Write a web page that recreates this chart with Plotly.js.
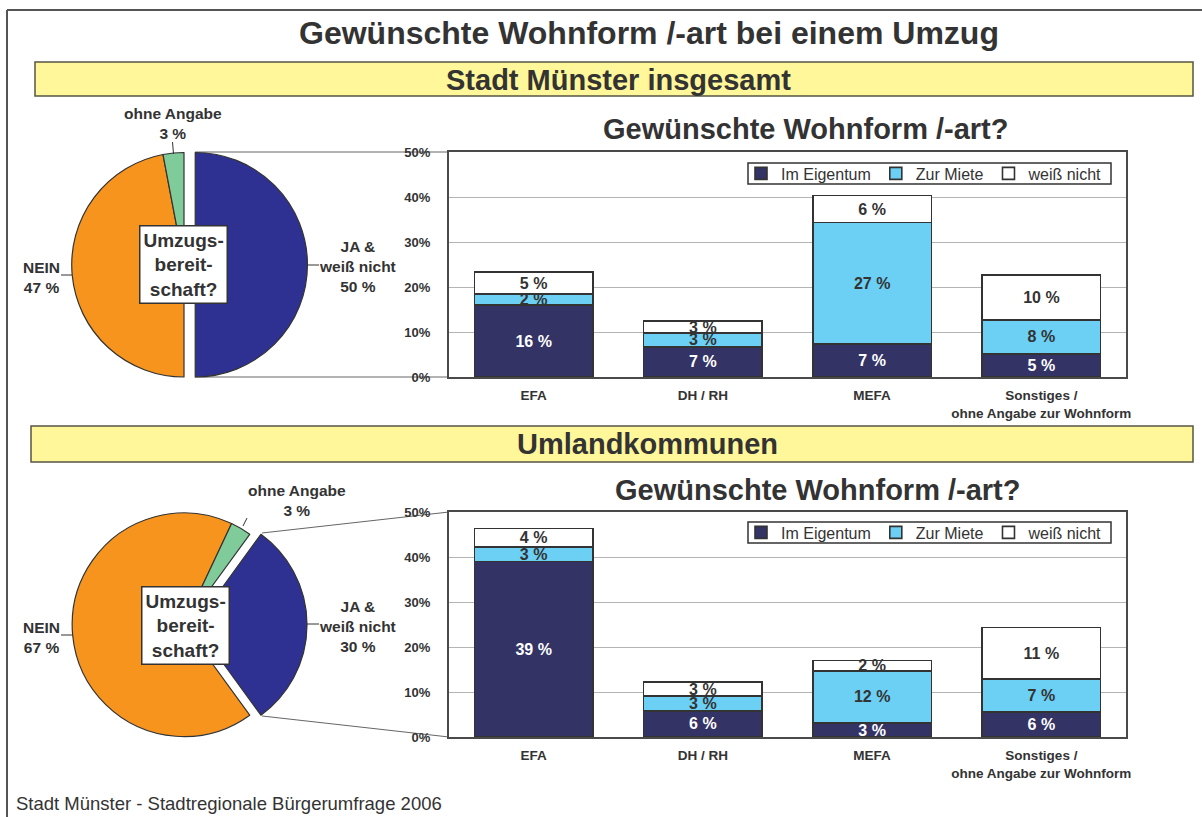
<!DOCTYPE html>
<html>
<head>
<meta charset="utf-8">
<script src="https://cdn.plot.ly/plotly-3.0.1.min.js"></script>
<style>html,body{margin:0;padding:0;background:#fff;}#chart{width:1202px;height:817px;}</style>
</head>
<body>
<div id="chart"></div>
<script>
// ---------- data ----------
var pieLabels = ['JA &<br>weiß nicht', 'NEIN', 'ohne Angabe'];
var pieMuenster = [50, 47, 3];
var pieUmland = [30, 67, 3];

var categories = ['EFA', 'DH / RH', 'MEFA', 'Sonstiges /<br>ohne Angabe zur Wohnform'];
var seriesNames = ['Im Eigentum', 'Zur Miete', 'weiß nicht'];
var muensterEigentum = [16, 6.7, 7.3, 5.1];
var muensterMiete = [2.4, 3.1, 27, 7.6];
var muensterWeiss = [4.9, 2.6, 6, 10];
var umlandEigentum = [39, 5.8, 3.1, 5.6];
var umlandMiete = [3.2, 3.3, 11.6, 7.3];
var umlandWeiss = [4.1, 3.1, 2.3, 11.4];
var yTicks = [0, 10, 20, 30, 40, 50];
var yTickText = yTicks.map(function (v) { return v + '%'; });

// ---------- styling helpers ----------
var W = 1202, H = 817;
function X(px) { return px / W; }
function Y(py) { return 1 - py / H; }
var FONT = 'Liberation Sans, Arial, sans-serif';
var TXT = '#333333';
var seriesColors = ['#333366', '#6ccff4', '#ffffff'];
var seriesTextColors = ['#ffffff', TXT, TXT];
var pieColors = ['#2e3192', '#f7941d', '#80cb9a'];

var traces = [];

function pieTrace(vals, dom, rot) {
  return {
    type: 'pie', labels: pieLabels, values: vals, sort: false, direction: 'clockwise',
    rotation: rot, pull: [0.1, 0, 0], textinfo: 'none', hoverinfo: 'none',
    marker: {colors: pieColors, line: {color: '#333', width: 1.2}},
    domain: dom, showlegend: false, automargin: false
  };
}
traces.push(pieTrace(pieMuenster, {x: [X(60.5), X(307.5)], y: [Y(388.5), Y(141)]}, 0));
traces.push(pieTrace(pieUmland, {x: [X(61), X(307)], y: [Y(748), Y(501.5)]}, 36));

function barSet(vals, xa, ya, legendName) {
  vals.forEach(function (v, i) {
    traces.push({
      type: 'bar', x: categories, y: v, name: seriesNames[i], xaxis: xa, yaxis: ya,
      marker: {color: seriesColors[i], line: {color: '#333', width: 1.6}},
      texttemplate: '%{y:.0f} %', textposition: 'inside', insidetextanchor: 'middle',
      textangle: 0, constraintext: 'none', cliponaxis: false,
      textfont: {family: FONT, size: 16, weight: 'bold', color: seriesTextColors[i]},
      legend: legendName, showlegend: true, hoverinfo: 'none'
    });
  });
}
barSet([muensterEigentum, muensterMiete, muensterWeiss], 'x', 'y', 'legend');
barSet([umlandEigentum, umlandMiete, umlandWeiss], 'x2', 'y2', 'legend2');

function yAxis(dom, anchor) {
  return {
    domain: dom, anchor: anchor, range: [0, 50], tickmode: 'array', tickvals: yTicks, ticktext: yTickText,
    showgrid: true, gridcolor: '#b4b4b4', gridwidth: 1, zeroline: false,
    showline: true, mirror: true, linecolor: '#4a4a4a', linewidth: 2,
    ticks: '', ticklabelstandoff: 14, fixedrange: true,
    tickfont: {family: FONT, size: 13, weight: 'bold', color: TXT}
  };
}
function xAxis(dom, anchor) {
  return {
    domain: dom, anchor: anchor, type: 'category', showline: true, mirror: true,
    linecolor: '#4a4a4a', linewidth: 2, ticks: '', ticklabelstandoff: 5, fixedrange: true,
    tickfont: {family: FONT, size: 13.5, weight: 'bold', color: TXT}
  };
}
function legendCfg(pyMid) {
  return {
    orientation: 'h', x: X(1108), xanchor: 'right', y: Y(pyMid), yanchor: 'middle',
    bgcolor: 'rgba(0,0,0,0)', borderwidth: 0,
    font: {family: FONT, size: 16, color: TXT}, itemwidth: 30, traceorder: 'normal'
  };
}

var lineCol = '#666';
function L(x0, y0, x1, y1, col, w, layer) {
  return {type: 'line', xref: 'paper', yref: 'paper', x0: X(x0), y0: Y(y0), x1: X(x1), y1: Y(y1),
    line: {color: col, width: w}, layer: layer || 'above'};
}
function R(x0, y0, x1, y1, fill, col, w, layer) {
  return {type: 'rect', xref: 'paper', yref: 'paper', x0: X(x0), y0: Y(y0), x1: X(x1), y1: Y(y1),
    fillcolor: fill, line: {color: col, width: w}, layer: layer};
}
var shapes = [
  L(7, 10, 1202, 10, '#555', 2),
  L(7, 10, 7, 817, '#555', 2),
  R(35, 62, 1193, 96, '#fff799', '#555544', 1.5, 'below'),
  R(31, 426, 1193, 462, '#fff799', '#555544', 1.5, 'below'),
  // legend boxes
  R(748, 163, 1111, 184, '#ffffff', '#333', 1.5, 'above'),
  R(748, 522, 1111, 543, '#ffffff', '#333', 1.5, 'above'),
  // connectors pie -> bar chart
  L(195, 152, 449, 152, lineCol, 1, 'below'),
  L(195, 377, 449, 377, lineCol, 1, 'below'),
  L(262, 533, 449, 512, lineCol, 1, 'below'),
  L(262, 716, 449, 737, lineCol, 1, 'below'),
  // pie label leader lines
  L(172.5, 142, 173.5, 154, '#333', 1),
  L(307, 265, 319, 265, '#333', 1),
  L(61, 275, 72, 275, '#333', 1),
  L(247, 518, 243, 526, '#333', 1),
  L(307, 624, 319, 624, '#333', 1),
  L(61, 635, 72, 635, '#333', 1)
];

function ann(text, px, py, size, bold, extra) {
  var a = {xref: 'paper', yref: 'paper', x: X(px), y: Y(py), xanchor: 'center', yanchor: 'middle',
    text: text, showarrow: false, font: {family: FONT, size: size, color: TXT, weight: bold ? 'bold' : 'normal'}};
  for (var k in extra) a[k] = extra[k];
  return a;
}
function pieLab(i, vals) { return pieLabels[i] + '<br>' + vals[i] + ' %'; }
var boxStyle = {bgcolor: '#fff', bordercolor: '#333', borderwidth: 1.5, borderpad: 3};

var annotations = [
  ann('Stadt Münster insgesamt', 618, 80, 29, true),
  ann('Umlandkommunen', 647, 444, 29, true),
  ann('Gewünschte Wohnform /-art?', 805, 129, 29, true),
  ann('Gewünschte Wohnform /-art?', 818, 490, 29, true),
  ann('Umzugs-<br>bereit-<br>schaft?', 183, 264, 19, true, boxStyle),
  ann('Umzugs-<br>bereit-<br>schaft?', 185, 625, 19, true, boxStyle),
  ann(pieLab(2, pieMuenster), 173, 124, 15.5, true),
  ann(pieLab(0, pieMuenster), 357, 266, 15.5, true),
  ann(pieLab(1, pieMuenster), 42, 277, 15.5, true),
  ann(pieLab(2, pieUmland), 297, 500, 15.5, true),
  ann(pieLab(0, pieUmland), 357, 626, 15.5, true),
  ann(pieLab(1, pieUmland), 42, 637, 15.5, true),
  ann('Stadt Münster - Stadtregionale Bürgerumfrage 2006', 14, 803, 18.5, false, {xanchor: 'left'})
];

var layout = {
  width: W, height: H, margin: {l: 0, r: 0, t: 0, b: 0},
  paper_bgcolor: '#fff', plot_bgcolor: '#fff',
  font: {family: FONT, color: TXT},
  title: {text: '<b>Gewünschte Wohnform /-art bei einem Umzug</b>', x: X(649), xanchor: 'center',
    y: Y(33), yanchor: 'middle', yref: 'container', xref: 'container',
    font: {family: FONT, size: 32, color: TXT}},
  barmode: 'stack', bargap: 0.3,
  xaxis: xAxis([X(449), X(1126)], 'y'),
  yaxis: yAxis([Y(377), Y(152)], 'x'),
  xaxis2: xAxis([X(449), X(1126)], 'y2'),
  yaxis2: yAxis([Y(737), Y(512)], 'x2'),
  legend: legendCfg(173.5),
  legend2: legendCfg(532.5),
  shapes: shapes,
  annotations: annotations
};

Plotly.newPlot('chart', traces, layout, {staticPlot: true, displayModeBar: false});
</script>
</body>
</html>
